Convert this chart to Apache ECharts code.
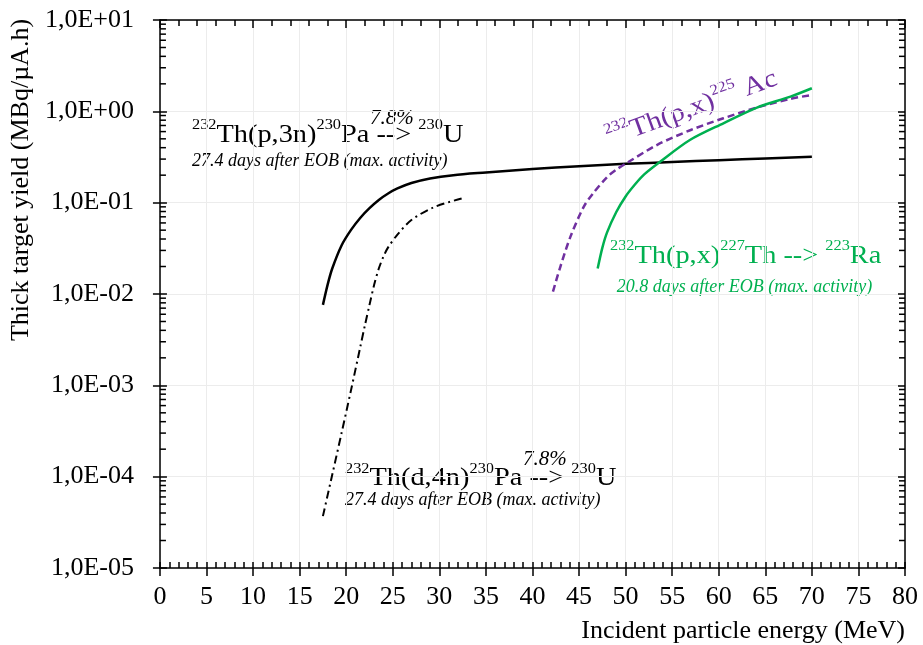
<!DOCTYPE html>
<html>
<head>
<meta charset="utf-8">
<script src="https://cdn.jsdelivr.net/npm/echarts@6/dist/echarts.min.js"></script>
<style>html,body{margin:0;padding:0;background:#fff}#c{width:923px;height:645px}</style>
</head>
<body>
<div id="c"></div>
<script>
// ---- data ----
const xTh_p3n = [17.5, 18.0, 18.5, 19.5, 20.5, 21.5, 22.5, 23.5, 24.5, 25.5, 27.0, 29.0, 31.5, 35, 40, 45, 50, 55, 60, 65, 70];
const yTh_p3n = [0.0076, 0.0126, 0.019, 0.034, 0.050, 0.068, 0.087, 0.107, 0.126, 0.143, 0.164, 0.184, 0.20, 0.214, 0.234, 0.251, 0.266, 0.279, 0.292, 0.305, 0.318];

const xTh_d4n = [17.5, 18.5, 19.5, 20.5, 21.5, 22.0, 22.5, 23.0, 23.5, 24.0, 24.5, 25.5, 27.0, 29.4, 32.5];
const yTh_d4n = [3.7e-5, 1.05e-4, 3.0e-4, 8.7e-4, 2.6e-3, 4.5e-3, 7.6e-3, 0.0126, 0.019, 0.0257, 0.0324, 0.0447, 0.0646, 0.089, 0.112];

const xAc225 = [42.2, 43.0, 44.1, 45.5, 46.5, 48.0, 49.0, 50.2, 53.4, 57.0, 60.5, 64.1, 67.7, 70.0];
const yAc225 = [0.0106, 0.020, 0.043, 0.090, 0.126, 0.19, 0.23, 0.275, 0.43, 0.625, 0.84, 1.10, 1.37, 1.51];

const xTh227 = [47.0, 47.5, 48.0, 49.0, 50.0, 51.0, 52.0, 53.7, 56.9, 60.5, 64.1, 67.7, 70.0];
const yTh227 = [0.019, 0.032, 0.047, 0.079, 0.117, 0.158, 0.204, 0.28, 0.485, 0.74, 1.10, 1.45, 1.79];

const yTickLabels = ['1,0E-05', '1,0E-04', '1,0E-03', '1,0E-02', '1,0E-01', '1,0E+00', '1,0E+01'];
const yMinExp = -5;
// log-axis minor tick positions (2..9 x 10^k)
const yMinorTicks = [];
for (let e = -5; e < 1; e++) for (let m = 2; m <= 9; m++) yMinorTicks.push(m * Math.pow(10, e));

const pairs = (xs, ys) => xs.map((x, i) => [x, ys[i]]);

const FF = "'Liberation Serif', 'Times New Roman', serif";
const AX = { color: '#000', width: 1.5 };

const chart = echarts.init(document.getElementById('c'), null, { renderer: 'canvas' });

const richBig = (color) => ({
  b: { fontFamily: FF, fontSize: 26, lineHeight: 30, color: color, verticalAlign: 'bottom' },
  s: { fontFamily: FF, fontSize: 15, lineHeight: 16, color: color, verticalAlign: 'top' }
});

function bigText(x, y, text, color, extra) {
  return Object.assign({
    type: 'text', x: x, y: y, scaleX: 1.09, silent: true,
    style: { text: text, rich: richBig(color), fill: color, font: '26px ' + FF, align: 'left', verticalAlign: 'middle' }
  }, extra || {});
}
function smallText(x, y, text, color, size) {
  return {
    type: 'text', x: x, y: y, silent: true,
    style: { text: text, fill: color, fontFamily: FF, fontSize: size, fontStyle: 'italic', align: 'left', verticalAlign: 'middle' }
  };
}

const lineSeries = (name, xs, ys, lineStyle) => ({
  type: 'line', name: name, xAxisIndex: 0, yAxisIndex: 0, data: pairs(xs, ys),
  showSymbol: false, smooth: 0.3, lineStyle: lineStyle
});

const option = {
  animation: false,
  backgroundColor: '#fff',
  grid: { left: 159, right: 18, top: 20, bottom: 77, containLabel: false },
  xAxis: [
    {
      type: 'value', position: 'bottom', min: 0, max: 80, interval: 5,
      axisLine: { show: true, onZero: false, lineStyle: AX },
      axisTick: { show: true, inside: true, length: 6, lineStyle: AX },
      minorTick: { show: true, splitNumber: 5, length: 6, lineStyle: AX },
      axisLabel: { fontFamily: FF, fontSize: 26, color: '#000', margin: 16 },
      splitLine: { show: true, lineStyle: { color: '#ececec', width: 1 } },
      name: 'Incident particle energy (MeV)', nameLocation: 'end', nameGap: 0,
      nameTextStyle: { fontFamily: FF, fontSize: 26, color: '#000', align: 'right', verticalAlign: 'top', padding: [50, 0, 0, 0] }
    },
    {
      type: 'value', position: 'bottom', min: 0, max: 80, interval: 5,
      axisLine: { show: false, onZero: false },
      axisTick: { show: true, inside: false, length: 8, lineStyle: AX },
      axisLabel: { show: false }, splitLine: { show: false }
    },
    {
      type: 'value', position: 'top', min: 0, max: 80, interval: 10,
      axisLine: { show: true, onZero: false, lineStyle: AX },
      axisTick: { show: true, inside: true, length: 8, lineStyle: AX },
      minorTick: { show: true, splitNumber: 5, length: 6, lineStyle: AX },
      axisLabel: { show: false }, splitLine: { show: false }
    }
  ],
  yAxis: [
    {
      type: 'log', logBase: 10, position: 'left', min: 1e-5, max: 10, splitNumber: 6,
      axisLine: { show: true, onZero: false, lineStyle: AX },
      axisTick: { show: true, inside: true, length: 7, lineStyle: AX },
      axisLabel: {
        fontFamily: FF, fontSize: 26, color: '#000', margin: 26,
        formatter: (v) => yTickLabels[Math.round(Math.log10(v)) - yMinExp]
      },
      splitLine: { show: true, lineStyle: { color: '#ececec', width: 1 } },
      name: 'Thick target yield (MBq/µA.h)', nameLocation: 'middle', nameGap: 120,
      nameTextStyle: { fontFamily: FF, fontSize: 26, color: '#000', padding: [0, 0, 0, 228] }
    },
    {
      type: 'log', logBase: 10, position: 'left', min: 1e-5, max: 10, splitNumber: 6,
      axisLine: { show: false, onZero: false },
      axisTick: { show: true, inside: false, length: 7, lineStyle: AX },
      axisLabel: { show: false }, splitLine: { show: false }
    },
    {
      type: 'log', logBase: 10, position: 'right', min: 1e-5, max: 10, splitNumber: 6,
      axisLine: { show: true, onZero: false, lineStyle: AX },
      axisTick: { show: true, inside: true, length: 7, lineStyle: AX },
      axisLabel: { show: false }, splitLine: { show: false }
    }
  ],
  series: [
    {
      type: 'custom', name: 'minorTicks', xAxisIndex: 0, yAxisIndex: 0, silent: true, clip: false, z: 5,
      data: yMinorTicks.map(v => [0, v]),
      renderItem: (params, api) => {
        const v = api.value(1);
        const l = api.coord([0, v]);
        const r = api.coord([80, v]);
        return {
          type: 'group', children: [
            { type: 'line', shape: { x1: l[0], y1: l[1], x2: l[0] + 6, y2: l[1] }, style: { stroke: '#000', lineWidth: 1.5 } },
            { type: 'line', shape: { x1: r[0], y1: r[1], x2: r[0] - 6, y2: r[1] }, style: { stroke: '#000', lineWidth: 1.5 } }
          ]
        };
      }
    },
    lineSeries('232Th(p,3n)230Pa', xTh_p3n, yTh_p3n, { color: '#000', width: 2.5 }),
    lineSeries('232Th(d,4n)230Pa', xTh_d4n, yTh_d4n, { color: '#000', width: 2, type: [8, 4, 2, 4] }),
    lineSeries('232Th(p,x)225Ac', xAc225, yAc225, { color: '#7030A0', width: 2.5, type: [7, 4] }),
    lineSeries('232Th(p,x)227Th', xTh227, yTh227, { color: '#00B050', width: 2.5 })
  ],
  graphic: [
    bigText(192, 133, '{s|232}{b|Th(p,3n)}{s|230}{b|Pa -->} {s|230}{b|U}', '#000'),
    smallText(370, 118, '7.8%', '#000', 21),
    smallText(192, 161, '27.4 days after EOB (max. activity)', '#000', 18),

    bigText(345, 476.5, '{s|232}{b|Th(d,4n)}{s|230}{b|Pa -->} {s|230}{b|U}', '#000'),
    smallText(523, 459, '7.8%', '#000', 21),
    smallText(345, 500.7, '27.4 days after EOB (max. activity)', '#000', 18),

    bigText(610, 253.8, '{s|232}{b|Th(p,x)}{s|227}{b|Th -->} {s|223}{b|Ra}', '#00B050'),
    smallText(616.7, 287.3, '20.8 days after EOB (max. activity)', '#00B050', 18),

    bigText(606.6, 137.6, '{s|232}{b|Th(p,x)}{s|225}{b| Ac}', '#7030A0', { rotation: 20 * Math.PI / 180, scaleX: 1.12 })
  ]
};
chart.setOption(option);
</script>
</body>
</html>
